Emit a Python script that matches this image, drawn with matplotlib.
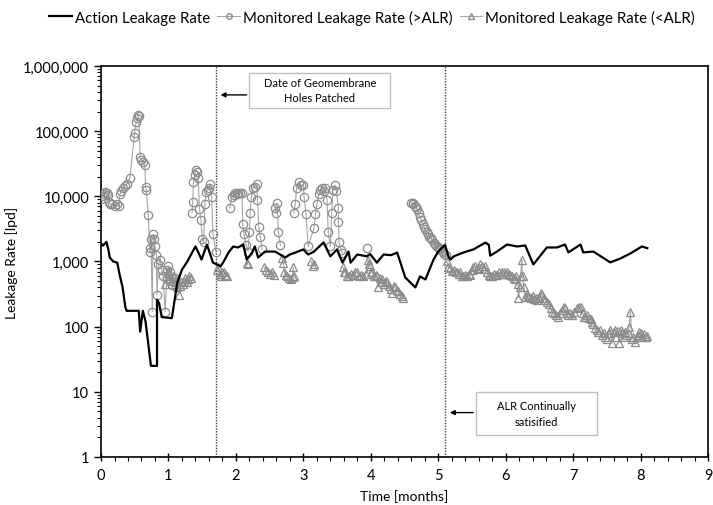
import numpy as np
import matplotlib
matplotlib.use("Agg")
import matplotlib.pyplot as plt
from matplotlib.ticker import FuncFormatter, FixedLocator, MultipleLocator, NullFormatter
from matplotlib.patches import Rectangle
from matplotlib.lines import Line2D

plt.rcParams["font.family"] = ["Lato", "DejaVu Sans"]

nan = np.nan

# Action leakage rate (black line)
alr_t = [0.00, 0.03, 0.06, 0.08, 0.11, 0.13, 0.18, 0.24, 0.28, 0.32, 0.36, 0.38, 0.50, 0.56,
         0.58, 0.62, 0.66, 0.70, 0.74, 0.83, 0.83, 0.86, 0.90, 1.05, 1.13, 1.20, 1.28, 1.35,
         1.40, 1.44, 1.49, 1.57, 1.62, 1.66, 1.72, 1.77, 1.81, 1.89, 1.96, 2.03, 2.11, 2.16,
         2.24, 2.28, 2.33, 2.43, 2.58, 2.73, 2.80, 2.88, 3.00, 3.07, 3.15, 3.30, 3.40, 3.50,
         3.58, 3.67, 3.70, 3.80, 3.94, 3.99, 4.09, 4.19, 4.30, 4.39, 4.44, 4.51, 4.66, 4.73,
         4.81, 4.93, 5.00, 5.10, 5.15, 5.18, 5.23, 5.37, 5.52, 5.70, 5.75, 5.77, 5.87, 6.02,
         6.17, 6.29, 6.41, 6.61, 6.76, 6.88, 6.93, 7.11, 7.15, 7.30, 7.55, 7.70, 7.85, 8.02, 8.10]
alr_v = [1900, 1750, 1900, 2000, 1500, 1150, 1000, 960, 600, 400, 200, 175, 175, 175,
         84, 175, 120, 55, 25, 25, 260, 230, 140, 135, 470, 750, 1000, 1370,
         1700, 1400, 1070, 1820, 1280, 960, 900, 840, 960, 1370, 1700, 1640, 1820, 1070,
         1370, 1700, 1150, 1420, 1420, 1150, 1280, 1370, 1530, 1280, 1400, 1960, 1200, 1530,
         960, 1420, 960, 1280, 1200, 1300, 960, 1280, 1250, 1370, 960, 570, 400, 590,
         530, 1070, 1420, 1800, 1200, 1070, 1200, 1370, 1530, 1950, 1800, 1230, 1420, 1820,
         1700, 1760, 900, 1640, 1640, 1820, 1380, 1820, 1380, 1420, 970, 1110, 1330, 1700, 1600]

# Monitored leakage rate above ALR (circles); nan breaks the line between clusters
hi_t = [0.00, 0.02, 0.04, 0.06, 0.09, 0.10, 0.12, 0.14, 0.17, 0.20, 0.23, 0.26, 0.28, 0.30,
        0.33, 0.36, 0.38, 0.43, 0.49, 0.50, 0.52, 0.53, 0.55, 0.56, 0.58, 0.60, 0.62, 0.65,
        0.66, 0.67, 0.70, 0.72, 0.73, 0.74, 0.76, 0.77, 0.79, 0.80, 0.82, 0.83, 0.85, 0.88,
        0.90, 0.92, 0.95, 0.98, 1.00, 1.02, 1.05, 1.08, 1.10, nan,
        1.35, 1.36, 1.37, 1.39, 1.41, 1.43, 1.44, 1.46, 1.48, 1.50, 1.52, 1.54, 1.56, 1.58,
        1.60, 1.62, 1.64, 1.66, 1.70, nan,
        1.91, 1.94, 1.97, 1.99, 2.01, 2.03, 2.06, 2.09, 2.10, 2.12, 2.15, 2.18, 2.20, 2.21,
        2.23, 2.25, 2.28, 2.31, 2.32, 2.34, 2.36, 2.39, nan,
        2.58, 2.60, 2.61, 2.63, 2.66, nan,
        2.86, 2.88, 2.90, 2.93, 2.96, 3.00, 3.01, 3.04, 3.07, 3.16, 3.18, 3.20, 3.23, 3.25,
        3.28, 3.30, 3.32, 3.35, 3.37, 3.40, 3.42, 3.44, 3.47, 3.49, 3.52, 3.52, 3.53, 3.56,
        3.58, nan,
        3.95, nan,
        4.60, 4.62, 4.63, 4.65, 4.67, 4.69, 4.71, 4.73, 4.75, 4.77, 4.79, 4.81, 4.83, 4.85,
        4.87, 4.89, 4.91, 4.93, 4.95, 4.97, 4.99, 5.01, 5.03, 5.05, 5.07, 5.09, 5.11]
hi_v = [9000, 10000, 11000, 11800, 11400, 10500, 8300, 7500, 7700, 7200, 7500, 7000, 10700, 12000,
        13600, 14500, 15200, 19400, 80000, 95000, 140000, 160000, 180000, 170000, 40000, 36000, 34000, 30000,
        14000, 12700, 5200, 1600, 1400, 2200, 170, 2600, 2200, 1700, 1280, 310, 900, 1070,
        750, 590, 170, 750, 840, 680, 440, 480, 550, nan,
        5600, 8300, 16800, 21600, 25700, 24000, 19400, 6300, 4400, 2200, 1960, 7500, 11800, 12700,
        13600, 15200, 9900, 2600, 1420, nan,
        6700, 9900, 10500, 11400, 11000, 11400, 11200, 11400, 3700, 2600, 1820, 1420, 2800, 5600,
        9900, 13600, 14000, 15200, 8900, 3400, 2400, 1530, nan,
        6700, 5500, 8000, 2800, 1760, nan,
        5600, 7500, 13600, 16300, 15000, 14700, 9900, 5300, 1700, 3300, 5300, 7500, 11000, 12700,
        13600, 12000, 13600, 8900, 2800, 1700, 5600, 12700, 14700, 12000, 6700, 4100, 1960, 1500,
        1370, nan,
        1600, nan,
        7800, 7500, 8000, 7200, 6800, 6300, 5500, 4800, 4300, 3800, 3400, 3100, 2800, 2600,
        2400, 2300, 2100, 1950, 1850, 1750, 1650, 1600, 1550, 1450, 1400, 1300, 1250]

# Monitored leakage rate below ALR (triangles)
lo_t = [0.95, 0.97, 0.99, 1.01, 1.03, 1.05, 1.07, 1.09, 1.11, 1.13, 1.15, 1.17, 1.19, 1.21,
        1.23, 1.25, 1.27, 1.29, 1.31, 1.33, nan,
        1.72, 1.74, 1.76, 1.78, 1.80, 1.82, 1.84, 1.87, nan,
        2.16, 2.18, nan,
        2.42, 2.45, 2.48, 2.51, 2.54, 2.56, nan,
        2.69, 2.70, 2.72, 2.74, 2.76, 2.79, 2.82, 2.84, 2.85, 2.86, nan,
        3.12, 3.14, 3.16, nan,
        3.59, 3.61, 3.62, 3.64, 3.67, 3.70, 3.73, 3.76, 3.80, 3.83, 3.86, 3.89, 3.93, 3.96,
        3.97, 3.99, 4.01, 4.02, 4.05, 4.07, 4.09, 4.11, 4.13, 4.15, 4.17, 4.20, 4.22, 4.24,
        4.27, 4.30, 4.32, 4.34, 4.36, 4.39, 4.41, 4.44, 4.46, 4.48, nan,
        5.13, 5.15, 5.18, 5.20, 5.23, 5.26, 5.28, 5.31, 5.33, 5.35, 5.37, 5.40, 5.43, 5.45,
        5.47, 5.50, 5.52, 5.55, 5.58, 5.60, 5.62, 5.65, 5.68, 5.70, 5.73, 5.75, 5.77, 5.80,
        5.83, 5.85, 5.87, 5.90, 5.93, 5.95, 5.98, 6.00, 6.02, 6.05, 6.07, 6.10, 6.12, 6.14,
        6.16, 6.18, 6.19, 6.21, 6.22, 6.24, 6.25, 6.27, 6.29, 6.31, 6.33, 6.35, 6.37, 6.40,
        6.42, 6.45, 6.47, 6.50, 6.52, 6.54, 6.57, 6.59, 6.61, 6.64, 6.67, 6.69, 6.72, 6.75,
        6.78, 6.81, 6.84, 6.86, 6.88, 6.91, 6.93, 6.96, 6.99, 7.02, 7.06, 7.09, 7.11, 7.14,
        7.16, 7.18, 7.21, 7.23, 7.26, 7.28, 7.30, 7.33, 7.35, 7.37, 7.40, 7.43, 7.46, 7.48,
        7.50, 7.53, 7.55, 7.57, 7.60, 7.62, 7.64, 7.66, 7.68, 7.71, 7.73, 7.75, 7.77, 7.79,
        7.81, 7.83, 7.85, 7.87, 7.89, 7.92, 7.94, 7.96, 7.98, 8.00, 8.02, 8.05, 8.08, 8.10]
lo_v = [450, 600, 700, 650, 560, 500, 600, 450, 530, 400, 310, 420, 480, 450,
        500, 550, 480, 530, 600, 560, nan,
        750, 810, 650, 600, 680, 700, 620, 590, nan,
        960, 900, nan,
        810, 750, 700, 650, 700, 620, nan,
        1150, 960, 700, 620, 590, 560, 540, 570, 810, 590, nan,
        1000, 840, 900, nan,
        810, 700, 680, 600, 590, 650, 620, 680, 680, 600, 620, 590, 650, 1070,
        900, 840, 700, 680, 600, 620, 590, 410, 560, 480, 530, 450, 500, 490,
        420, 380, 330, 420, 400, 370, 350, 320, 300, 280, nan,
        1000, 810, 800, 720, 750, 700, 680, 650, 680, 600, 590, 630, 600, 650,
        630, 750, 810, 840, 780, 800, 900, 840, 780, 840, 700, 620, 590, 590,
        650, 620, 630, 680, 650, 680, 700, 650, 680, 640, 630, 600, 560, 530,
        600, 450, 280, 400, 600, 1070, 600, 400, 290, 320, 300, 290, 280, 300,
        270, 280, 260, 290, 330, 310, 280, 260, 240, 220, 190, 170, 160, 150,
        140, 160, 180, 200, 190, 160, 150, 160, 150, 170, 190, 200, 200, 160,
        140, 140, 150, 138, 130, 116, 110, 95, 90, 84, 88, 75, 80, 70,
        65, 80, 90, 57, 84, 90, 70, 85, 57, 90, 80, 70, 84, 75,
        80, 100, 170, 64, 70, 59, 70, 75, 82, 80, 70, 76, 70, 72]

y_ticks = [1, 10, 100, 1000, 10000, 100000, 1000000]
patch_date = 1.7
satisfied_date = 5.1

fig = plt.figure(figsize=(7.13, 5.06), dpi=100)
ax = fig.add_axes([0.1417, 0.0949, 0.8513, 0.7727])

gray_line = "#a6a6a6"
gray_mark = "#8c8c8c"

ax.plot(hi_t, hi_v, color=gray_line, lw=0.8, marker="o", ms=6,
        mfc="none", mec=gray_mark, mew=0.9, zorder=3)
ax.plot(lo_t, lo_v, color=gray_line, lw=0.8, marker="^", ms=6,
        mfc="none", mec=gray_mark, mew=0.9, zorder=3)
ax.plot(alr_t, alr_v, color="black", lw=1.6, zorder=4)

ax.axvline(patch_date, color="#404040", lw=1, ls=(0, (1, 1)), zorder=2)
ax.axvline(satisfied_date, color="#404040", lw=1, ls=(0, (1, 1)), zorder=2)

ax.set_yscale("log")
ax.set_ylim(1, 1e6)
ax.set_xlim(0, 9)
ax.xaxis.set_major_locator(MultipleLocator(1))
ax.xaxis.set_minor_locator(MultipleLocator(0.2))
minor_y = [d * m for d in y_ticks[:-1] for m in range(2, 10)]
ax.yaxis.set_major_locator(FixedLocator(y_ticks))
ax.yaxis.set_minor_locator(FixedLocator(minor_y))
ax.yaxis.set_major_formatter(FuncFormatter(lambda v, p: f"{v:,.0f}"))
ax.yaxis.set_minor_formatter(NullFormatter())
ax.tick_params(axis="x", which="major", direction="inout", length=6, width=1, labelsize=10.5, pad=5)
ax.tick_params(axis="x", which="minor", direction="out", length=3, width=0.8)
ax.tick_params(axis="y", which="major", direction="out", length=5, width=1, labelsize=10.5)
ax.tick_params(axis="y", which="minor", direction="out", length=3, width=0.8)
for s in ax.spines.values():
    s.set_linewidth(1.2)

ax.set_xlabel("Time [months]", fontsize=10, labelpad=5)
ax.set_ylabel("Leakage Rate [lpd]", fontsize=10, labelpad=4)

# annotation boxes
ax.add_patch(Rectangle((2.20, 2.3e5), 2.09, 7.9e5 - 2.3e5, facecolor="white",
                       edgecolor="#bfbfbf", lw=1, zorder=5))
ax.text(3.245, 4.25e5, "Date of Geomembrane\nHoles Patched", ha="center", va="center",
        fontsize=8, linespacing=1.5, zorder=6)
ax.annotate("", xy=(patch_date + 0.03, 3.6e5), xytext=(2.20, 3.6e5),
            arrowprops=dict(arrowstyle="-|>", color="black", lw=1, mutation_scale=7), zorder=6)

ax.add_patch(Rectangle((5.56, 2.14), 1.80, 10.1 - 2.14, facecolor="white",
                       edgecolor="#bfbfbf", lw=1, zorder=5))
ax.text(6.46, 4.65, "ALR Continually\nsatisified", ha="center", va="center",
        fontsize=8, linespacing=1.5, zorder=6)
ax.annotate("", xy=(satisfied_date + 0.03, 4.8), xytext=(5.56, 4.8),
            arrowprops=dict(arrowstyle="-|>", color="black", lw=1, mutation_scale=7), zorder=6)

handles = [
    Line2D([], [], color="black", lw=1.6),
    Line2D([], [], color=gray_line, lw=0.8, marker="o", ms=4, mfc="none", mec=gray_mark),
    Line2D([], [], color=gray_line, lw=0.8, marker="^", ms=4, mfc="none", mec=gray_mark),
]
labels = ["Action Leakage Rate", "Monitored Leakage Rate (>ALR)", "Monitored Leakage Rate (<ALR)"]
fig.legend(handles, labels, loc="center", bbox_to_anchor=(0.522, 0.964), ncol=3,
           frameon=False, fontsize=10.8, handlelength=1.5, handletextpad=0.2, columnspacing=0.5)

fig.savefig("out.png", dpi=100)
